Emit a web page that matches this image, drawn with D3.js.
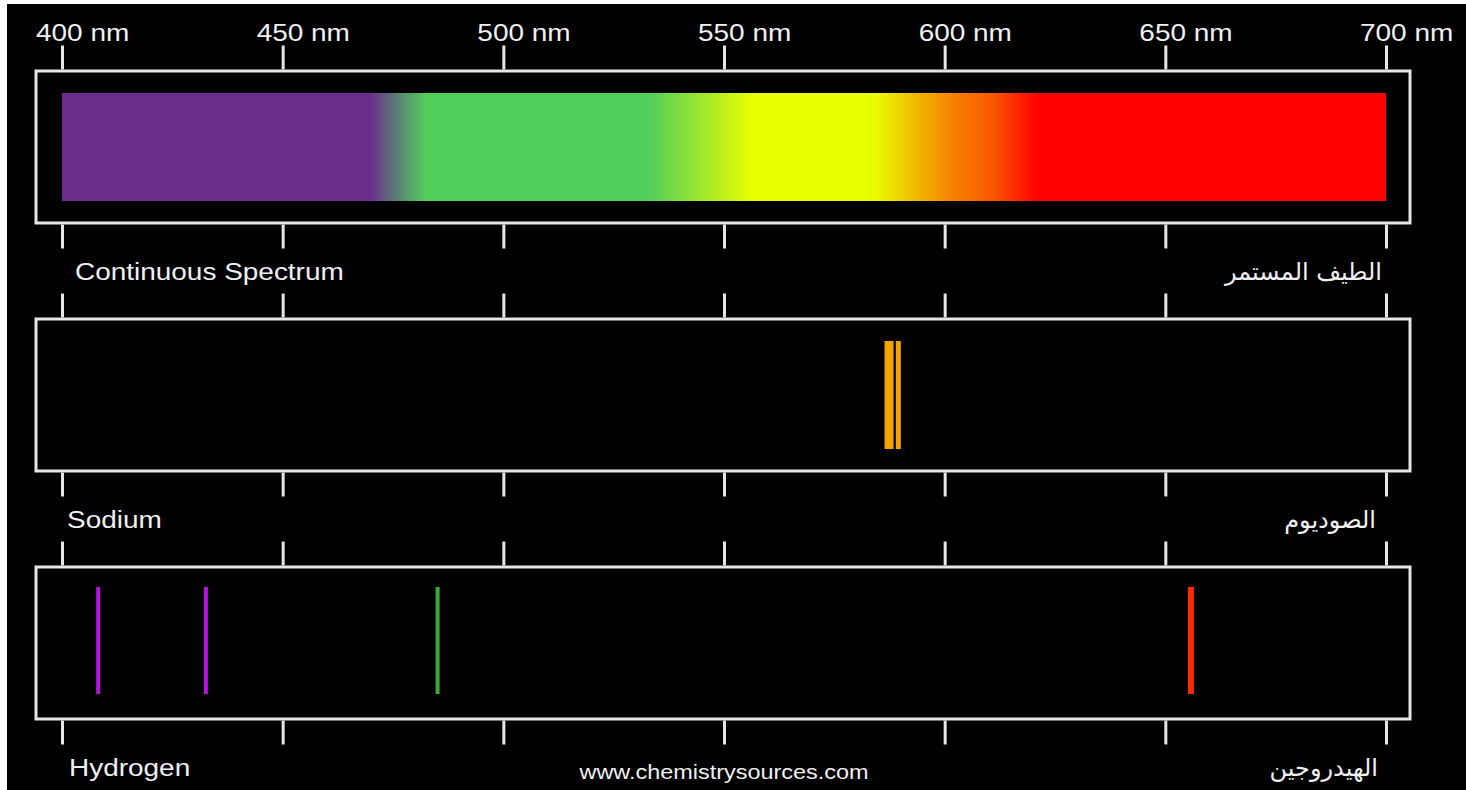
<!DOCTYPE html>
<html>
<head>
<meta charset="utf-8">
<script src="https://cdnjs.cloudflare.com/ajax/libs/d3/7.8.5/d3.min.js"></script>
<style>
    html, body { margin: 0; padding: 0; background: #fff; }
    #spectra { display: block; }
</style>
</head>
<body>
<div id="spectra"></div>
<script>
    // wavelength ticks (nm)
    var tickValues = [400, 450, 500, 550, 600, 650, 700];

    // panels
    var panelNames = ["Continuous Spectrum", "Sodium", "Hydrogen"];
    var panelNamesAr = ["الطيف المستمر", "الصوديوم", "الهيدروجين"];

    // continuous spectrum colour stops
    var stopNm = [400, 469.8, 475.5, 482.4, 533, 544.3, 556.4, 583.8, 600.3, 611.2, 621.2, 700];
    var stopColor = ["#6b2d8c", "#6b2d8c", "#5b7a78", "#52ce5a", "#52ce5a", "#9ae52e", "#e8ff00",
                     "#e8ff00", "#f58a00", "#f95500", "#ff0000", "#ff0000"];

    // emission lines (nm)
    var sodiumNm = [587.4, 589.5];
    var sodiumColor = ["#f5a300", "#f5a300"];
    var hydrogenNm = [408.2, 432.6, 485.1, 655.8];
    var hydrogenColor = ["#b314e0", "#b314e0", "#3da83a", "#ff2a00"];

    var source = "www.chemistrysources.com";

    var width = 1466,
        height = 790,
        panelTop = [71, 319, 567],
        panelH = 152,
        tickLen = 24,
        inset = 22,
        stretch = 1.19,
        lineCol = "#e6e6e6";

    var x = d3.scaleLinear().domain([400, 700]).range([62, 1386]);

    var svg = d3.select("#spectra").append("svg")
        .attr("width", width)
        .attr("height", height);

    // black plate (thin white strip top / left like the original)
    svg.append("rect")
        .attr("x", 7).attr("y", 4)
        .attr("width", width - 7).attr("height", height - 4)
        .attr("fill", "#000");

    var grad = svg.append("defs").append("linearGradient")
        .attr("id", "cont")
        .attr("gradientUnits", "userSpaceOnUse")
        .attr("x1", x(400)).attr("x2", x(700))
        .attr("y1", 0).attr("y2", 0);

    grad.selectAll("stop")
        .data(stopNm)
        .enter().append("stop")
        .attr("offset", function(d) { return (x(d) - x(400)) / (x(700) - x(400)); })
        .attr("stop-color", function(d, i) { return stopColor[i]; });

    var stretchedText = function(sel, tx, ty, txt, size, anchor) {
        sel.append("text")
            .attr("transform", "translate(" + tx + "," + ty + ") scale(" + stretch + ",1)")
            .attr("text-anchor", anchor)
            .attr("font-family", "'Liberation Sans', Arial, sans-serif")
            .attr("font-size", size)
            .attr("fill", "#f0f0f0")
            .text(txt);
    };

    // nm labels on top
    tickValues.forEach(function(t) {
        stretchedText(svg, x(t) - 26, 41, t + " nm", 23.5, "start");
    });

    var labelX = [75, 67, 69];
    var labelArX = [1382, 1376, 1378];

    panelTop.forEach(function(top, p) {
        var g = svg.append("g");
        var bottom = top + panelH;

        g.append("rect")
            .attr("x", x(400) - 26)
            .attr("y", top)
            .attr("width", (x(700) + 24) - (x(400) - 26))
            .attr("height", panelH)
            .attr("fill", "none")
            .attr("stroke", lineCol)
            .attr("stroke-width", 3);

        var axTop = d3.axisTop(x).tickValues(tickValues).tickSize(tickLen).tickFormat("");
        var axBot = d3.axisBottom(x).tickValues(tickValues).tickSize(tickLen).tickFormat("");

        [[axTop, top - 1.5], [axBot, bottom + 1.5]].forEach(function(a) {
            var ag = g.append("g").attr("transform", "translate(0," + a[1] + ")").call(a[0]);
            ag.select(".domain").remove();
            ag.selectAll(".tick line").attr("stroke", lineCol).attr("stroke-width", 3);
        });

        stretchedText(g, labelX[p], bottom + 57, panelNames[p], 23.5, "start");

        // arabic name, right aligned under the 700 nm tick
        g.append("text")
            .attr("x", labelArX[p])
            .attr("y", bottom + 57)
            .attr("text-anchor", "end")
            .attr("font-family", "'DejaVu Sans', sans-serif")
            .attr("font-size", 24)
            .attr("fill", "#f0f0f0")
            .text(panelNamesAr[p]);
    });

    // continuous
    svg.append("rect")
        .attr("x", x(400))
        .attr("y", panelTop[0] + inset)
        .attr("width", x(700) - x(400))
        .attr("height", panelH - 2 * inset)
        .attr("fill", "url(#cont)");

    // sodium doublet
    var naW = [9, 5];
    svg.selectAll(".na")
        .data(sodiumNm)
        .enter().append("rect")
        .attr("class", "na")
        .attr("x", function(d, i) { return x(d) - naW[i] / 2; })
        .attr("y", panelTop[1] + inset)
        .attr("width", function(d, i) { return naW[i]; })
        .attr("height", panelH - 2 * inset)
        .attr("fill", function(d, i) { return sodiumColor[i]; });

    // hydrogen
    var hW = [4, 4, 4, 6];
    svg.selectAll(".h")
        .data(hydrogenNm)
        .enter().append("rect")
        .attr("class", "h")
        .attr("x", function(d, i) { return x(d) - hW[i] / 2; })
        .attr("y", panelTop[2] + 20)
        .attr("width", function(d, i) { return hW[i]; })
        .attr("height", 107)
        .attr("fill", function(d, i) { return hydrogenColor[i]; });

    stretchedText(svg, 724, 779, source, 19.7, "middle");
</script>
</body>
</html>
